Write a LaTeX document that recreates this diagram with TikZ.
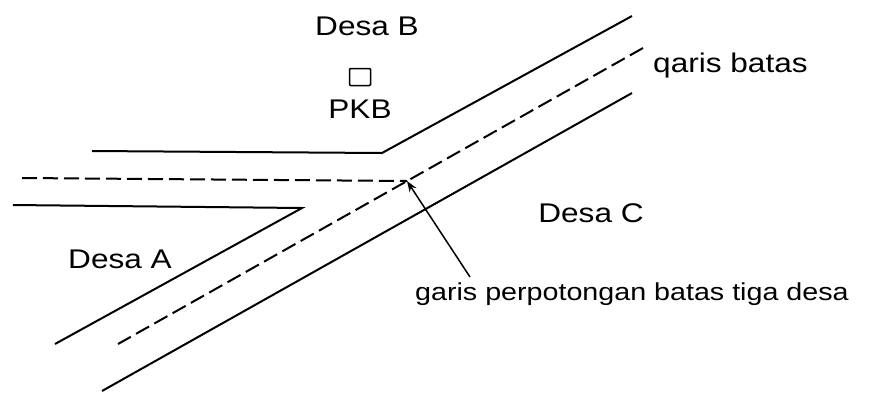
\documentclass[tikz,border=0pt]{standalone}
\usepackage{fontspec}
\setmainfont[FakeStretch=1.17]{Liberation Sans}
\usetikzlibrary{arrows.meta}

\begin{document}
\begin{tikzpicture}[x=1pt,y=-1pt,
            inner sep=0pt,
            every node/.style={font=\fontsize{27}{32}\selectfont},
            kecil/.style = {font=\fontsize{24.5}{30}\selectfont},
            batas/.style = {line width=2pt},
            putus/.style = {line width=2pt, dash pattern=on 15pt off 6pt},
            ]
            \useasboundingbox (0,0) rectangle (873,392);

            % ends and corners of the road edges
            \coordinate (b1) at (92,151);
            \coordinate (b2) at (382,153);
            \coordinate (b3) at (632,16);
            \coordinate (a1) at (13,205);
            \coordinate (a2) at (302,208);
            \coordinate (a3) at (55,344);
            \coordinate (c1) at (632,93);
            \coordinate (c2) at (102,391);
            \coordinate (d1) at (643,48);
            \coordinate (d2) at (118,344);
            \coordinate (d3) at (22,178);
            \coordinate (d4) at (407,181);
            \coordinate (e1) at (470,277);

            \draw[batas] (b1) -- (b2) -- (b3);
            \draw[batas] (a1) -- (a2) -- (a3);
            \draw[batas] (c1) -- (c2);
            \draw[putus] (d1) -- (d2);
            \draw[putus] (d3) -- (d4);

            \node (desaB) at (367,26) {Desa B};
            \node[draw, line width=1.5pt, rounded corners=1pt, minimum width=21pt, minimum height=17pt] (kotak) at (360,77) {};
            \node (pkb) at (360,109) {PKB};
            \node (desaA) at (120,259) {Desa A};
            \node (desaC) at (591,213) {Desa C};
            \node[anchor=base west] (garis) at (653,72) {qaris batas};
            \node[anchor=base west, kecil] (potong) at (415,300) {garis perpotongan batas tiga desa};

            \draw[line width=1.5pt, -{Stealth[length=11pt,width=8pt]}] (e1) -- (d4);
        \end{tikzpicture}
\end{document}
